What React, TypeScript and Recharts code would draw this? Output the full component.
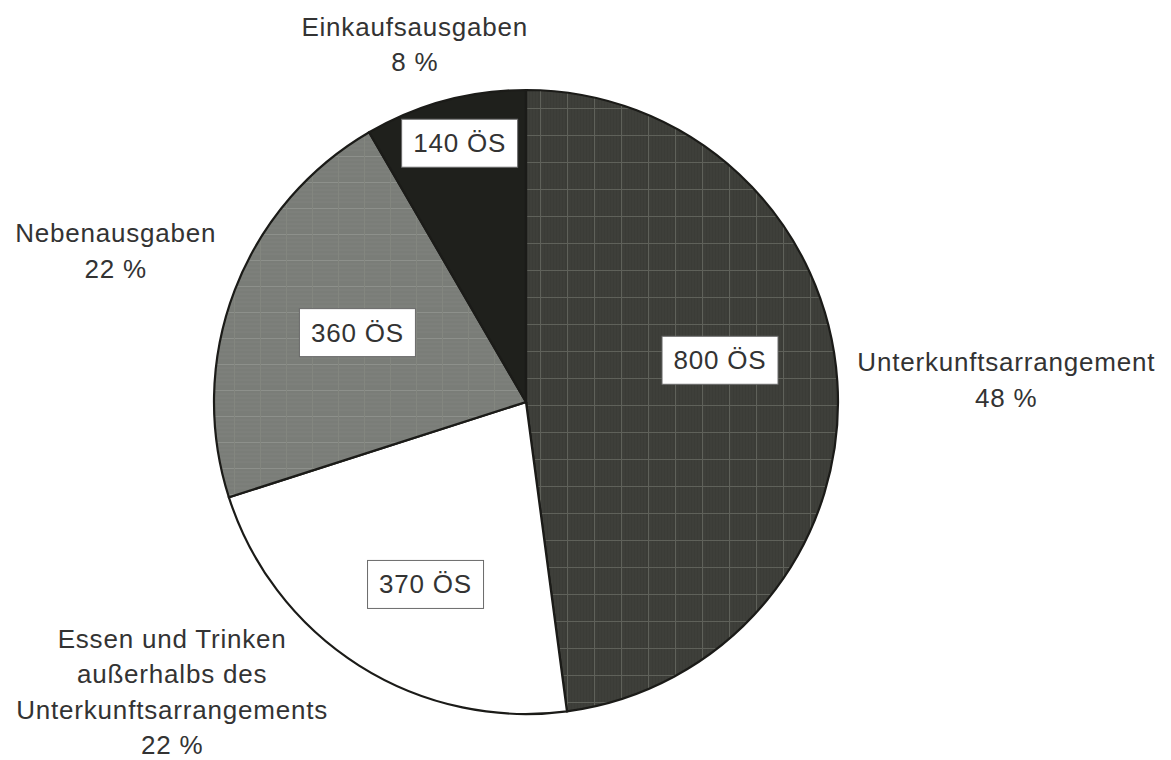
import { PieChart, Pie, Cell } from "recharts";

// Kategorien (Zeilenumbruch mit \n) und Beträge in ÖS
const categories = [
  "Unterkunftsarrangement",
  "Essen und Trinken\naußerhalbs des\nUnterkunftsarrangements",
  "Nebenausgaben",
  "Einkaufsausgaben",
];
const amounts = [800, 370, 360, 140];
const currency = "ÖS";

const fills = ["url(#gridDark)", "#ffffff", "url(#gridGray)", "#1f201c"];

const data = categories.map((name, i) => ({ name, value: amounts[i] }));

const RADIAN = Math.PI / 180;
const FONT = "'Liberation Sans', Arial, sans-serif";
const TEXT = "#333333";
const LINE_H = 35.5;

// Verschiebung der Beschriftungen relativ zur Sektorgeometrie
const outerShift = [
  [169, -10],
  [-187, -18],
  [-119, -48],
  [-30, -65],
];
const innerShift = [
  [1, -29],
  [3, 19],
  [12, 0],
  [-16, -72],
];

const renderLabel = (props: any) => {
  const { cx, cy, midAngle, outerRadius, index, value, percent, name } = props;
  const cos = Math.cos(-midAngle * RADIAN);
  const sin = Math.sin(-midAngle * RADIAN);

  // innerer Wert im weißen Kasten
  const ir = outerRadius * 0.62;
  const ix = cx + ir * cos + innerShift[index][0];
  const iy = cy + ir * sin + innerShift[index][1];
  const boxW = 116;
  const boxH = 48;

  // äußere Beschriftung
  const ox = cx + outerRadius * cos + outerShift[index][0];
  const oy = cy + outerRadius * sin + outerShift[index][1];
  const lines = [...String(name).split("\n"), `${Math.round(percent * 100)} %`];

  return (
    <g>
      <rect
        x={ix - boxW / 2}
        y={iy - boxH / 2}
        width={boxW}
        height={boxH}
        fill="#ffffff"
        stroke="#6a6a6a"
        strokeWidth={1}
      />
      <text
        x={ix}
        y={iy + 9}
        textAnchor="middle"
        fill={TEXT}
        fontSize={26}
        letterSpacing={0.8}
        fontFamily={FONT}
      >
        {`${value} ${currency}`}
      </text>
      <text
        x={ox}
        y={oy}
        textAnchor="middle"
        fill={TEXT}
        fontSize={26}
        letterSpacing={0.8}
        fontFamily={FONT}
      >
        {lines.map((l, k) => (
          <tspan key={k} x={ox} y={oy + k * LINE_H}>
            {l}
          </tspan>
        ))}
      </text>
    </g>
  );
};

export default function App() {
  return (
    <div
      style={{
        position: "absolute",
        left: 0,
        top: 0,
        width: 1171,
        height: 760,
        background: "#ffffff",
      }}
    >
      <PieChart width={1171} height={760} margin={{ top: 0, right: 0, bottom: 0, left: 0 }}>
        <defs>
          <pattern id="gridDark" width="27" height="27" patternUnits="userSpaceOnUse">
            <rect width="27" height="27" fill="#3b3c37" />
            <path d="M3 0V27M6 0V27M9 0V27M12 0V27M15 0V27M18 0V27M21 0V27M24 0V27" stroke="#41423d" strokeWidth="1" />
            <path d="M0 0.5H27M0.5 0V27" stroke="#5f615a" strokeWidth="1.2" />
          </pattern>
          <pattern id="gridGray" width="26" height="26" patternUnits="userSpaceOnUse">
            <rect width="26" height="26" fill="#7a7d78" />
            <path d="M0 4H26M0 8H26M0 12H26M0 16H26M0 20H26" stroke="#7f827d" strokeWidth="1" />
            <path d="M0 0.5H26" stroke="#8d908b" strokeWidth="1" />
            <path d="M0.5 0V26" stroke="#83867f" strokeWidth="1" />
          </pattern>
        </defs>
        <Pie
          data={data}
          dataKey="value"
          nameKey="name"
          cx={526}
          cy={402}
          outerRadius={312}
          startAngle={90}
          endAngle={-270}
          stroke="#1b1b18"
          strokeWidth={2.2}
          label={renderLabel}
          labelLine={false}
          isAnimationActive={false}
        >
          {data.map((d, i) => (
            <Cell key={d.name} fill={fills[i]} />
          ))}
        </Pie>
      </PieChart>
    </div>
  );
}
